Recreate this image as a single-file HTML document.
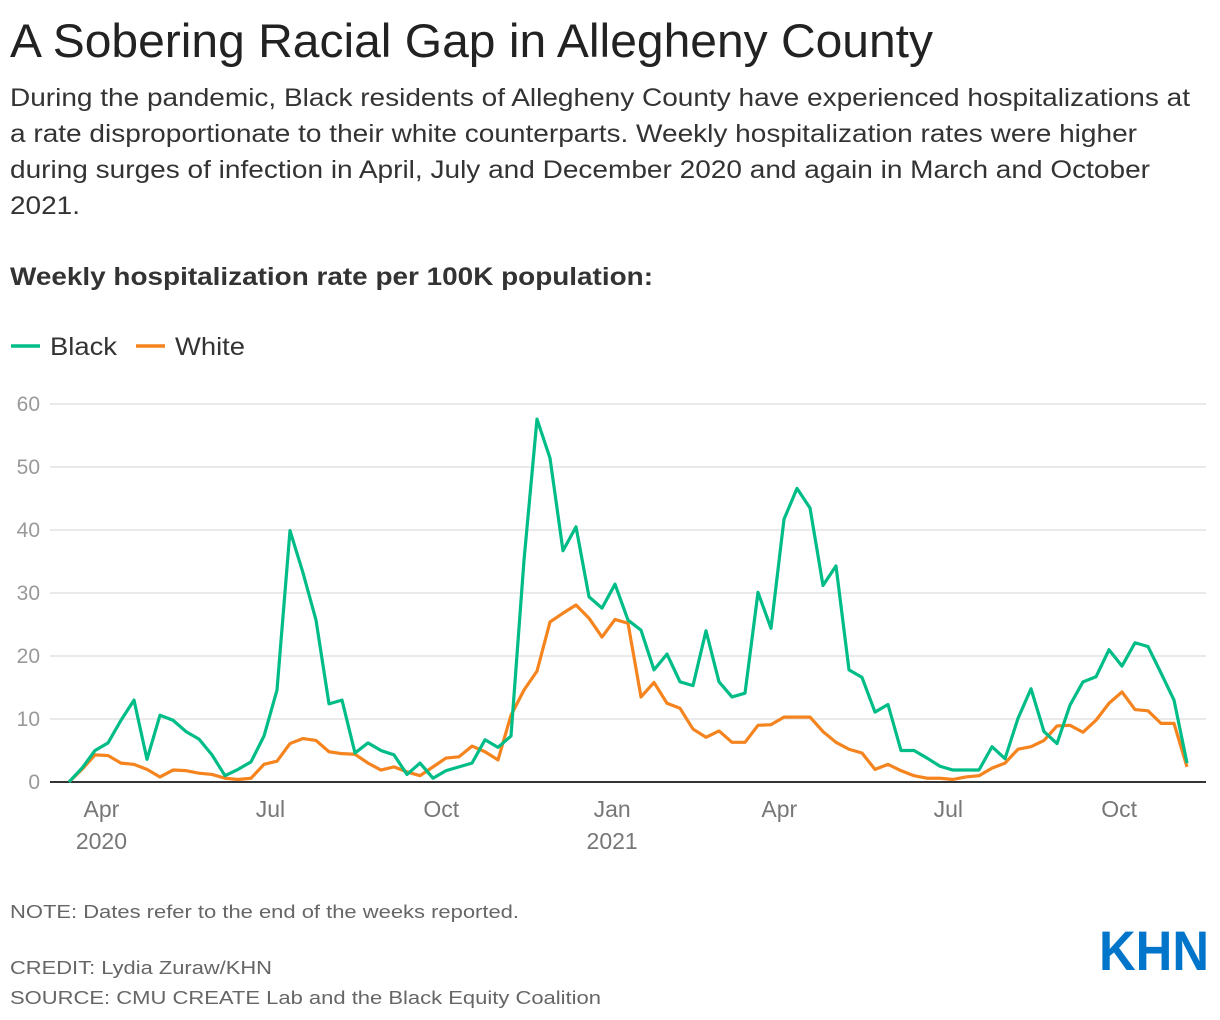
<!DOCTYPE html>
<html><head><meta charset="utf-8"><style>
body{margin:0;width:1220px;height:1020px;background:#fff;overflow:hidden;font-family:"Liberation Sans",Arial,sans-serif;}
svg{position:absolute;left:0;top:0}
</style></head><body>
<svg id="c" width="1220" height="1020">
<text x="10" y="57" font-size="47" fill="#222" textLength="923" lengthAdjust="spacingAndGlyphs">A Sobering Racial Gap in Allegheny County</text>
<g font-size="25" fill="#333">
<text x="10" y="106" textLength="1180" lengthAdjust="spacingAndGlyphs">During the pandemic, Black residents of Allegheny County have experienced hospitalizations at</text>
<text x="10" y="142" textLength="1127" lengthAdjust="spacingAndGlyphs">a rate disproportionate to their white counterparts. Weekly hospitalization rates were higher</text>
<text x="10" y="178" textLength="1140" lengthAdjust="spacingAndGlyphs">during surges of infection in April, July and December 2020 and again in March and October</text>
<text x="10" y="214" textLength="70" lengthAdjust="spacingAndGlyphs">2021.</text>
</g>
<text x="10" y="285" font-size="25" font-weight="bold" fill="#333" textLength="643" lengthAdjust="spacingAndGlyphs">Weekly hospitalization rate per 100K population:</text>
<g>
<g><line x1="11" y1="346" x2="40" y2="346" stroke="#00bc87" stroke-width="3.5"/><text x="50" y="355" font-size="25" fill="#333" textLength="67" lengthAdjust="spacingAndGlyphs">Black</text></g>
<g><line x1="136" y1="346" x2="165" y2="346" stroke="#f5841f" stroke-width="3.5"/><text x="175" y="355" font-size="25" fill="#333" textLength="70" lengthAdjust="spacingAndGlyphs">White</text></g>
</g>
<g id="grid"></g><g id="series"></g>
<g font-size="18" fill="#666">
<text x="10" y="918" textLength="509" lengthAdjust="spacingAndGlyphs">NOTE: Dates refer to the end of the weeks reported.</text>
<text x="10" y="974" textLength="262" lengthAdjust="spacingAndGlyphs">CREDIT: Lydia Zuraw/KHN</text>
<text x="10" y="1004" textLength="591" lengthAdjust="spacingAndGlyphs">SOURCE: CMU CREATE Lab and the Black Equity Coalition</text>
</g>
<text x="1099" y="970" font-size="56" font-weight="bold" fill="#0075c9" textLength="110" lengthAdjust="spacingAndGlyphs">KHN</text>
</svg>
<script>
const yTicks=[0,10,20,30,40,50,60];
const xTickLabels=["Apr","Jul","Oct","Jan","Apr","Jul","Oct"];
const xTickYears=["2020","","","2021","","",""];
const xTickDates=["2020-04-01","2020-07-01","2020-10-01","2021-01-01","2021-04-01","2021-07-01","2021-10-01"];
const startDate="2020-03-14";
const black=[0,2.2,5,6.2,9.8,13,3.6,10.6,9.8,8,6.8,4.3,1,2,3.2,7.3,14.6,39.9,33.2,25.7,12.4,13,4.6,
6.2,5,4.3,1.2,3,0.6,1.8,2.4,3,6.7,5.5,7.3,35.2,57.6,51.4,36.7,40.5,29.4,27.6,31.4,25.7,24.1,
17.8,20.3,15.9,15.3,24,15.9,13.5,14.1,30.1,24.4,41.7,46.6,43.5,31.2,34.3,17.8,16.6,11.1,12.3,5,5,
3.8,2.5,1.9,1.9,1.9,5.6,3.7,10.1,14.8,8,6.1,12.2,15.9,16.7,21,18.4,22.1,21.5,17.3,13,3];
const white=[0,2,4.3,4.2,3,2.8,2,0.8,1.9,1.8,1.4,1.2,0.6,0.4,0.6,2.8,3.3,6.1,6.9,6.6,4.8,4.5,4.4,
3,1.9,2.4,1.6,1,2.4,3.8,4,5.7,4.8,3.5,10.6,14.6,17.6,25.4,26.8,28.1,26,23,25.8,25.2,13.5,
15.8,12.5,11.7,8.4,7.1,8.1,6.3,6.3,9,9.1,10.3,10.3,10.3,8,6.3,5.2,4.6,2,2.8,1.8,1,
0.6,0.6,0.4,0.8,1,2.2,3,5.2,5.6,6.6,8.9,9,7.9,9.8,12.5,14.3,11.5,11.3,9.3,9.3,2.4];
const NS="http://www.w3.org/2000/svg";
const y=v=>782-v*6.3;
const t0=Date.parse(startDate);
const xd=d=>69+(Date.parse(d)-t0)/86400000*13/7;
const xi=i=>69+i*13;
const grid=document.getElementById('grid'),ser=document.getElementById('series');
function mk(tag,a,p){const e=document.createElementNS(NS,tag);for(const k in a)e.setAttribute(k,a[k]);p.appendChild(e);return e;}
yTicks.forEach(v=>{
 const l=mk('line',{x1:50,x2:1206,y1:y(v),y2:y(v),stroke:v===0?'#333':'#e3e3e3','stroke-width':v===0?2:1.5},grid);
 
 
 const t=mk('text',{x:40,y:y(v)+7,'text-anchor':'end','font-size':21,fill:'#999'},grid);t.textContent=v;
 
 
});
xTickDates.forEach((d,i)=>{
 const t=mk('text',{x:xd(d)-1,y:817,'text-anchor':'middle','font-size':23,fill:'#777'},grid);t.textContent=xTickLabels[i];
 
 
 if(xTickYears[i]){const u=mk('text',{x:xd(d)-1,y:849,'text-anchor':'middle','font-size':23,fill:'#777'},grid);u.textContent=xTickYears[i];
 
 }
});
[[white,'#f5841f','white-line'],[black,'#00bc87','black-line']].forEach(([arr,c,n])=>{
 const p=mk('polyline',{points:arr.map((v,i)=>xi(i)+','+y(v)).join(' '),fill:'none',stroke:c,'stroke-width':3.2,'stroke-linejoin':'round'},ser);
 
 
});
</script>
</body></html>
